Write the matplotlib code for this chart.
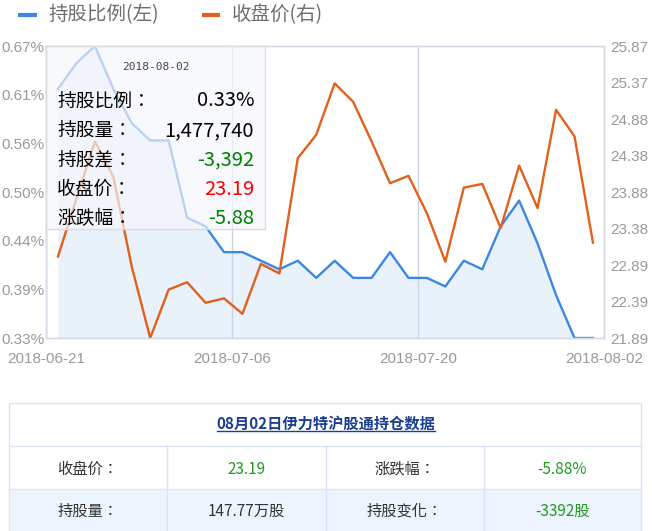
import numpy as np
import matplotlib
matplotlib.use('Agg')
import matplotlib.pyplot as plt
from matplotlib.patches import Rectangle

plt.rcParams['font.family'] = ['Noto Sans CJK SC', 'DejaVu Sans']

# 沪股通持股 - 伊力特
dates = ['2018-06-21', '2018-06-22', '2018-06-25', '2018-06-26', '2018-06-27',
         '2018-06-28', '2018-06-29', '2018-07-03', '2018-07-04', '2018-07-05',
         '2018-07-06', '2018-07-09', '2018-07-10', '2018-07-11', '2018-07-12',
         '2018-07-13', '2018-07-16', '2018-07-17', '2018-07-18', '2018-07-19',
         '2018-07-20', '2018-07-23', '2018-07-24', '2018-07-25', '2018-07-26',
         '2018-07-27', '2018-07-30', '2018-07-31', '2018-08-01', '2018-08-02']
ratio = [0.62, 0.65, 0.67, 0.62, 0.58, 0.56, 0.56, 0.47, 0.46, 0.43,
         0.43, 0.42, 0.41, 0.42, 0.40, 0.42, 0.40, 0.40, 0.43, 0.40,
         0.40, 0.39, 0.42, 0.41, 0.46, 0.49, 0.44, 0.38, 0.33, 0.33]
close = [23.00, 23.79, 24.57, 24.09, 22.86, 21.89, 22.55, 22.65, 22.37, 22.43,
         22.22, 22.90, 22.77, 24.34, 24.66, 25.36, 25.11, 24.57, 24.00, 24.10,
         23.59, 22.93, 23.94, 23.99, 23.39, 24.24, 23.66, 25.00, 24.64, 23.19]
ratio_ticks = ['0.33%', '0.39%', '0.44%', '0.50%', '0.56%', '0.61%', '0.67%']
close_ticks = ['21.89', '22.39', '22.89', '23.38', '23.88', '24.38', '24.88', '25.37', '25.87']
date_ticks = ['2018-06-21', '2018-07-06', '2018-07-20', '2018-08-02']
shares = 1477740
share_diff = -3392
change_pct = -5.88
stock = '伊力特'

W, H = 652, 531
blue = '#3b87e1'
orange = '#e1601d'
tick_color = '#999999'
label_font = ['Noto Sans CJK TC', 'DejaVu Sans']  # centred full-width colon

fig = plt.figure(figsize=(W / 100, H / 100), dpi=100)
ax = fig.add_axes([46 / W, 1 - 338 / H, 558 / W, 292 / H])
x = np.arange(len(dates))

ax.fill_between(x, ratio, min(ratio), color='#e9f1fb', lw=0)
ax.plot(x, ratio, color=blue, lw=1.7)
ax.set_ylim(0.33, 0.67)
ax.set_xlim(-0.65, 29.6)
ax.set_yticks(np.linspace(0.33, 0.67, len(ratio_ticks)))
ax.set_yticklabels(ratio_ticks)
xl = ax.get_xlim()
ax.set_xticks(np.linspace(xl[0], xl[1], len(date_ticks)))
ax.set_xticklabels(date_ticks)
ax.grid(axis='x', color='#c9d3e5', lw=1)
ax.tick_params(axis='y', length=0, pad=1, labelsize=11, labelcolor=tick_color,
               labelfontfamily='Liberation Sans')
ax.tick_params(axis='x', length=0, pad=10, labelsize=11, labelcolor=tick_color,
               labelfontfamily='Liberation Sans')

ax2 = ax.twinx()
ax2.plot(x, close, color=orange, lw=1.7)
ax2.set_ylim(21.89, 25.87)
ax2.set_yticks(np.linspace(21.89, 25.87, len(close_ticks)))
ax2.set_yticklabels(close_ticks)
ax2.tick_params(axis='y', length=0, pad=4.5, labelsize=11, labelcolor=tick_color,
                labelfontfamily='Liberation Sans')

for a in (ax, ax2):
    for s in a.spines.values():
        s.set_color('#d5dbe5')
        s.set_linewidth(1)

# overlay in pixel coords: legend, tooltip, table
ov = fig.add_axes([0, 0, 1, 1], zorder=10)
ov.set_xlim(0, W)
ov.set_ylim(H, 0)
ov.axis('off')

ov.plot([18, 37], [15, 15], color=blue, lw=3, solid_capstyle='butt')
ov.text(48, 15, '持股比例(左)', va='center', fontsize=14, color='#6e6e6e')
ov.plot([202, 220], [15, 15], color=orange, lw=3, solid_capstyle='butt')
ov.text(232, 15, '收盘价(右)', va='center', fontsize=14, color='#6e6e6e')

# tooltip
ov.add_patch(Rectangle((46, 46), 219, 183, facecolor='#f6f7fb', alpha=0.68, lw=0))
ov.add_patch(Rectangle((46, 46), 219, 183, facecolor='none', edgecolor='#dcdcdc', lw=1))
ov.text(156, 67, dates[-1], ha='center', va='center', family='DejaVu Sans Mono',
        fontsize=8, color='#444444')
tip_labels = ['持股比例：', '持股量：', '持股差：', '收盘价：', '涨跌幅：']
tip_values = [f'{ratio[-1]:.2f}%', f'{shares:,}', f'{share_diff:,}',
              f'{close[-1]:.2f}', f'{change_pct:.2f}']
tip_colors = ['black', 'black', '#008000', '#ff0000', '#008000']
for i, (lab, val, col) in enumerate(zip(tip_labels, tip_values, tip_colors)):
    yy = 101 + i * 29.5
    ov.text(57, yy, lab, ha='left', va='center', fontsize=13.5, color='black',
            family=label_font)
    ov.text(254, yy, val, ha='right', va='center', fontsize=14.5, color=col)

# table
border = '#d9e5f7'
ov.add_patch(Rectangle((9, 489), 632, 50, facecolor='#eef4fd', lw=0))
ov.add_patch(Rectangle((9, 403), 632, 140, facecolor='none', edgecolor=border, lw=1))
for yy in (446, 489):
    ov.plot([9, 641], [yy, yy], color=border, lw=1)
for xx in (167, 326, 484):
    ov.plot([xx, xx], [446, 540], color=border, lw=1)

title = ov.text(326, 424, f'08月02日{stock}沪股通持仓数据', ha='center', va='center',
                fontsize=11, fontweight='bold', color='#1b3e93')
green = '#1f9a1f'
cells = [
    (469, ['收盘价：', f'{close[-1]:.2f}', '涨跌幅：', f'{change_pct:.2f}%'],
     ['#333333', green, '#333333', green]),
    (511.5, ['持股量：', f'{shares / 10000:.2f}万股', '持股变化：', f'{share_diff}股'],
     ['#333333', '#333333', '#333333', green]),
]
col_x = [88, 246.5, 405, 562.5]
for yy, texts, cols in cells:
    for j, (cx, t, c) in enumerate(zip(col_x, texts, cols)):
        fam = label_font if j % 2 == 0 else None
        ov.text(cx, yy, t, ha='center', va='center', fontsize=11, color=c, family=fam)

fig.canvas.draw()
bb = title.get_window_extent()
inv = ov.transData.inverted()
(x0, _), (x1, _) = inv.transform([[bb.x0, bb.y0], [bb.x1, bb.y1]])
ov.plot([x0, x1], [431, 431], color='#1b3e93', lw=1)

fig.savefig('out.png', dpi=100)
